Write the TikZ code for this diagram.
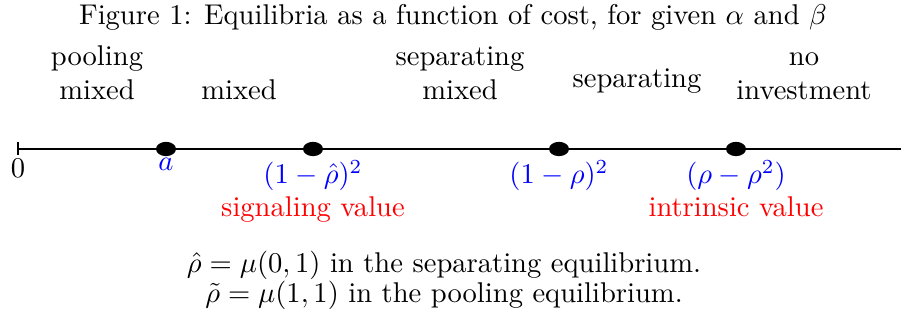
\documentclass[tikz,border=0pt]{standalone}
\usepackage{amsmath}
\usetikzlibrary{shapes.geometric}
\begin{document}
\begin{tikzpicture}[x=0.35pt,y=-0.35pt,
  lbl/.style={align=center,inner sep=0pt,font=\normalsize},
  dotnode/.style={ellipse,fill=black,minimum width=7pt,minimum height=5pt,inner sep=0pt},
  vallbl/.style={text=blue,inner sep=0pt},
  redlbl/.style={text=red,inner sep=0pt}]
\useasboundingbox (0,0) rectangle (901,320);
\node[lbl] (title) at (453,17) {Figure 1: Equilibria as a function of cost, for given $\alpha$ and $\beta$};
\node[lbl,anchor=base] (pm) at (97,100) {pooling\\mixed};
\node[lbl,anchor=base] (m) at (239,100) {mixed};
\node[lbl,anchor=base] (sm) at (460,100) {separating\\mixed};
\node[lbl,anchor=base] (s) at (637,88) {separating};
\node[lbl,anchor=base] (ni) at (804,100) {no\\investment};
\coordinate (start) at (18,149);
\coordinate (end) at (901,149);
\draw[line width=0.8pt] (start) -- (end);
\draw[line width=0.5pt] (18,142) -- (18,155);
\node[inner sep=0pt,anchor=base] (zero) at (18,178) {$0$};
\node[dotnode] (d1) at (166,149) {};
\node[dotnode] (d2) at (313,149) {};
\node[dotnode] (d3) at (559,149) {};
\node[dotnode] (d4) at (736,149) {};
\node[vallbl,anchor=base] (la) at (166,171) {$a$};
\node[vallbl,anchor=base] (l2) at (313,184) {$(1-\hat\rho)^2$};
\node[redlbl,anchor=base] (sv) at (313,217) {signaling value};
\node[vallbl,anchor=base] (l3) at (559,184) {$(1-\rho)^2$};
\node[vallbl,anchor=base] (l4) at (736,184) {$(\rho-\rho^2)$};
\node[redlbl,anchor=base] (iv) at (736,217) {intrinsic value};
\node[lbl,anchor=base] (n1) at (444,273) {$\hat\rho=\mu(0,1)$ in the separating equilibrium.};
\node[lbl,anchor=base] (n2) at (444,303) {$\tilde\rho=\mu(1,1)$ in the pooling equilibrium.};
\end{tikzpicture}
\end{document}
